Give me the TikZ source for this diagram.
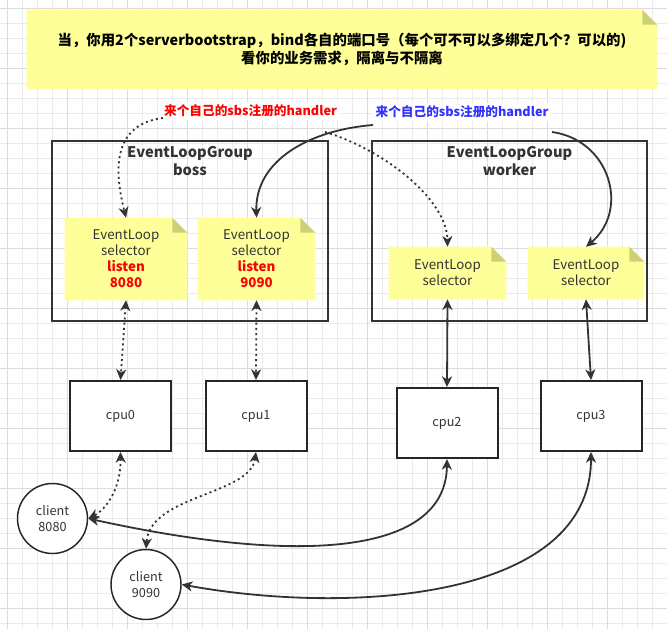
\documentclass[tikz,border=0pt]{standalone}
\usepackage{fontspec}
\setmainfont{Noto Sans CJK SC}
\usetikzlibrary{arrows.meta,backgrounds,shapes.geometric}

\definecolor{gridminor}{HTML}{EBEBEB}
\definecolor{gridmajor}{HTML}{DCDCDC}
\definecolor{noteyellow}{HTML}{FFFF99}
\definecolor{notefold}{HTML}{CFCF78}
\definecolor{ink}{HTML}{333333}
\definecolor{lblred}{HTML}{FF0000}
\definecolor{lblblue}{HTML}{3333FF}

\tikzset{
  tipa/.tip={Stealth[length=8pt,width=7.5pt,inset=2.4pt]},
  notebox/.style={inner sep=0pt, align=center, text=ink, font=\fontsize{10}{12}\selectfont},
  groupbox/.style={draw=ink, line width=1.5pt, inner sep=0pt},
  grouptitle/.style={align=center, text=ink, font=\bfseries\fontsize{11}{13.5}\selectfont},
  cpubox/.style={draw=black!85, fill=white, line width=1.5pt, minimum width=75.75pt, minimum height=52.5pt, inner sep=0pt, text=ink, font=\fontsize{9.5}{12}\selectfont},
  clientnode/.style={ellipse, draw=black!85, fill=white, line width=1.1pt, minimum width=52.5pt, minimum height=52.5pt, inner sep=0pt, align=center, text=ink, font=\fontsize{9.5}{12}\selectfont},
  lbl/.style={fill=white, inner sep=2pt, font=\bfseries\fontsize{9.5}{12}\selectfont},
  edge/.style={draw=ink, line width=1.35pt},
  dots/.style={dash pattern=on 1.5pt off 2.4pt},
  hot/.style={text=lblred, font=\bfseries\fontsize{10}{12}\selectfont}
}

\newcommand\notefill[1]{%
  \fill[noteyellow] (#1.south west) -- (#1.north west) -- ([xshift=-11.25pt]#1.north east)
    -- ([yshift=-11.25pt]#1.north east) -- (#1.south east) -- cycle;
  \fill[notefold] ([xshift=-11.25pt]#1.north east) -- ([xshift=-11.25pt,yshift=-11.25pt]#1.north east)
    -- ([yshift=-11.25pt]#1.north east) -- cycle;
}

\begin{document}
\begin{tikzpicture}[x=0.75pt,y=-0.75pt]
\useasboundingbox (0,0) rectangle (667,629);

% grid
\begin{scope}[on background layer]
  \fill[white] (0,0) rectangle (667,629);
  \foreach \k in {0,...,44} {
    \pgfmathsetmacro\xx{7.3+15*\k}
    \draw[gridminor, line width=0.75pt] (\xx,0) -- (\xx,629);
  }
  \foreach \k in {0,...,41} {
    \pgfmathsetmacro\yy{8.3+15*\k}
    \draw[gridminor, line width=0.75pt] (0,\yy) -- (667,\yy);
  }
  \foreach \k in {0,...,11} {
    \pgfmathsetmacro\xx{7.3+60*\k}
    \draw[gridmajor, line width=0.75pt] (\xx,0) -- (\xx,629);
  }
  \foreach \k in {0,...,10} {
    \pgfmathsetmacro\yy{8.3+60*\k}
    \draw[gridmajor, line width=0.75pt] (0,\yy) -- (667,\yy);
  }
\end{scope}

% top note
\node[notebox, minimum width=472.5pt, minimum height=59.25pt, text=black,
      font=\bfseries\fontsize{10.8}{13.5}\selectfont] (topnote) at (342,49.5)
  {当，你用2个serverbootstrap，bind各自的端口号（每个可不可以多绑定几个？可以的)\\看你的业务需求，隔离与不隔离};

% group boxes
\node[groupbox, minimum width=207pt, minimum height=135pt] (boss) at (190,231) {};
\node[grouptitle] (bosstitle) at (190,161) {EventLoopGroup\\boss};
\node[groupbox, minimum width=206.25pt, minimum height=135pt] (worker) at (509.5,231) {};
\node[grouptitle] (workertitle) at (509.5,161) {EventLoopGroup\\worker};

% notes
\node[notebox, minimum width=91.5pt, minimum height=61.5pt] (n1) at (126,259)
  {EventLoop\\selector\\{\color{lblred}\bfseries listen}\\{\color{lblred}\bfseries 8080}};
\node[notebox, minimum width=87.75pt, minimum height=61.5pt] (n2) at (256.5,259)
  {EventLoop\\selector\\{\color{lblred}\bfseries listen}\\{\color{lblred}\bfseries 9090}};
\node[notebox, minimum width=87.75pt, minimum height=39pt] (n3) at (447.5,273)
  {EventLoop\\selector};
\node[notebox, minimum width=87pt, minimum height=39pt] (n4) at (586,273)
  {EventLoop\\selector};

\begin{scope}[on background layer]
  \notefill{topnote}
  \notefill{n1}
  \notefill{n2}
  \notefill{n3}
  \notefill{n4}
\end{scope}

% labels
\node[lbl, text=lblred] (redlbl) at (250.5,111) {来个自己的sbs注册的handler};
\node[lbl, text=lblblue] (bluelbl) at (462,112) {来个自己的sbs注册的handler};

% cpus
\node[cpubox] (cpu0) at (120.5,416) {cpu0};
\node[cpubox] (cpu1) at (256,416) {cpu1};
\node[cpubox] (cpu2) at (447,423) {cpu2};
\node[cpubox] (cpu3) at (591,416) {cpu3};

% clients
\node[clientnode] (c8080) at (52.5,518.5) {client\\8080};
\node[clientnode] (c9090) at (146,584.5) {client\\9090};

% free ends of label connectors
\coordinate (r1) at (163,118);
\coordinate (r2) at (325,132);
\coordinate (b1) at (373,125);
\coordinate (b2) at (552,132);

% label connectors
\draw[edge, dots, -{tipa}] (r1) .. controls (105,125) and (118,185) .. (n1.north);
\draw[edge, dots, -{tipa}] (r2) .. controls (385,150) and (447,200) .. (n3.north);
\draw[edge, -{tipa}] (b1) .. controls (310,130) and (255,160) .. (n2.north);
\draw[edge, -{tipa}] (b2) .. controls (610,140) and (630,210) .. (n4.north);

% note <-> cpu
\draw[edge, dots, {tipa}-{tipa}] (n1.south) -- (cpu0.north);
\draw[edge, dots, {tipa}-{tipa}] (n2.south) -- (cpu1.north);
\draw[edge, {tipa}-{tipa}] (n3.south) -- (cpu2.north);
\draw[edge, {tipa}-{tipa}] (n4.south) -- (cpu3.north);

% cpu <-> client
\draw[edge, dots, {tipa}-{tipa}] (cpu0.south) .. controls (121,490) and (105,510) .. (c8080.east);
\draw[edge, dots, {tipa}-{tipa}] (cpu1.south) .. controls (250,495) and (150,495) .. (c9090.north);
\draw[edge, {tipa}-{tipa}] (cpu2.south) .. controls (446,555) and (300,565) .. (c8080.east);
\draw[edge, {tipa}-{tipa}] (cpu3.south) .. controls (591,600) and (350,615) .. (c9090.east);
\end{tikzpicture}
\end{document}
